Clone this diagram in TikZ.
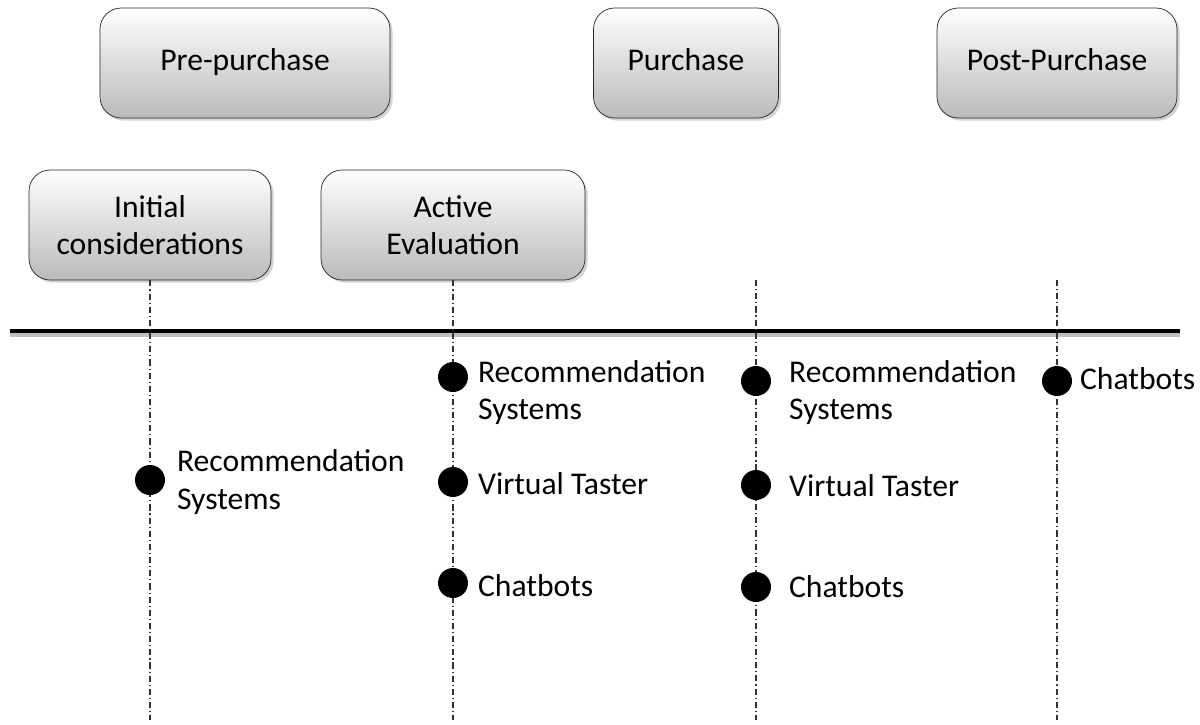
\documentclass[tikz,border=0pt]{standalone}
\usepackage{fontspec}
\setmainfont{Carlito}
\usetikzlibrary{positioning,shadows}

\tikzset{
  stage/.style={draw=black!85, thin, rounded corners=12pt, top color=white, bottom color=black!27,
    drop shadow={shadow xshift=1.5pt, shadow yshift=-1.5pt, opacity=0.35},
    minimum height=2.2cm, align=center, font=\fontsize{18}{21}\selectfont},
  guide/.style={black!80, line width=0.6pt, dash pattern=on 3.5pt off 1.7pt on 0.6pt off 1.7pt},
  dot/.style={circle, fill=black, inner sep=0pt, minimum size=0.6cm},
  tool/.style={anchor=west, align=left, inner sep=1pt, font=\fontsize{18}{21.5}\selectfont}
}

\begin{document}
\begin{tikzpicture}[x=0.02cm, y=-0.02cm]
  \useasboundingbox (0,0) rectangle (1200,724);

  % stages
  \node[stage, minimum width=5.8cm]  (pre)    at (245,63)  {\strut Pre-purchase};
  \node[stage, minimum width=3.7cm]  (pur)    at (686,63)  {\strut Purchase};
  \node[stage, minimum width=4.8cm]  (post)   at (1057,63) {\strut Post-Purchase};
  \node[stage, minimum width=4.84cm] (init)   at (150,225) {Initial\\considerations};
  \node[stage, minimum width=5.28cm] (active) at (453,225) {Active\\Evaluation};

  % time line
  \coordinate (tl) at (10,331);
  \coordinate (tr) at (1180,331);
  \draw[black!25, line width=3pt] ([yshift=-2pt]tl) -- ([yshift=-2pt]tr);
  \draw[line width=2.2pt] (tl) -- (tr);

  % guides
  \coordinate (g1) at (150,720);
  \coordinate (g2) at (453,720);
  \coordinate (g3t) at (756,280);
  \coordinate (g3) at (756,720);
  \coordinate (g4t) at (1057,280);
  \coordinate (g4) at (1057,720);
  \draw[guide] (init.south) -- (g1);
  \draw[guide] (active.south) -- (g2);
  \draw[guide] (g3t) -- (g3);
  \draw[guide] (g4t) -- (g4);

  % initial considerations
  \node[dot] (i1) at (150,480) {};
  \node[tool] at (175,482) {Recommendation\\Systems};

  % active evaluation
  \node[dot] (a1) at (453,377) {};
  \node[dot] (a2) at (453,482) {};
  \node[dot] (a3) at (453,583) {};
  \node[tool, anchor=north west] at (476,358) {Recommendation\\Systems};
  \node[tool] at (476,484) {Virtual Taster};
  \node[tool] at (476,586) {Chatbots};

  % purchase
  \node[dot] (p1) at (756,381) {};
  \node[dot] (p2) at (756,485) {};
  \node[dot] (p3) at (756,587) {};
  \node[tool, anchor=north west] at (787,358) {Recommendation\\Systems};
  \node[tool] at (787,486) {Virtual Taster};
  \node[tool] at (787,587) {Chatbots};

  % post-purchase
  \node[dot] (q1) at (1057,381) {};
  \node[tool] at (1078,379) {Chatbots};
\end{tikzpicture}
\end{document}
